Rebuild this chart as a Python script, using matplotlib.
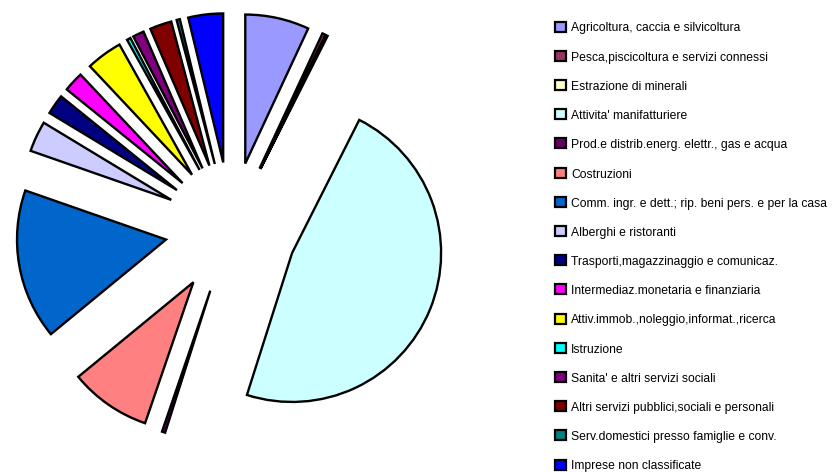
import matplotlib.pyplot as plt
from matplotlib.patches import Rectangle

categories = [
    "Agricoltura, caccia e silvicoltura",
    "Pesca,piscicoltura e servizi connessi",
    "Estrazione di minerali",
    "Attivita' manifatturiere",
    "Prod.e distrib.energ. elettr., gas e acqua",
    "Costruzioni",
    "Comm. ingr. e dett.; rip. beni pers. e per la casa",
    "Alberghi e ristoranti",
    "Trasporti,magazzinaggio e comunicaz.",
    "Intermediaz.monetaria e finanziaria",
    "Attiv.immob.,noleggio,informat.,ricerca",
    "Istruzione",
    "Sanita' e altri servizi sociali",
    "Altri servizi pubblici,sociali e personali",
    "Serv.domestici presso famiglie e conv.",
    "Imprese non classificate",
]
shares = [6.9, 0.35, 0.15, 47.2, 0.35, 8.75, 16.2, 3.3,
          2.15, 2.15, 3.9, 0.4, 1.2, 2.35, 0.35, 3.75]
colors = ["#9999FF", "#993366", "#FFFFCC", "#CCFFFF", "#660066", "#FF8080",
          "#0066CC", "#CCCCFF", "#000080", "#FF00FF", "#FFFF00", "#00FFFF",
          "#800080", "#800000", "#008080", "#0000FF"]

W, H = 832, 472
fig = plt.figure(figsize=(W / 100, H / 100), dpi=100)
ax = fig.add_axes([0, 0, 1, 1])

# pixel coordinates, y pointing down -> counterclock in data is clockwise on screen
ax.pie(shares, colors=colors, center=(231, 228), radius=149,
       explode=[66] * len(shares), startangle=-90, counterclock=True,
       wedgeprops=dict(edgecolor="black", linewidth=1.7))
ax.set_xlim(0, W)
ax.set_ylim(H, 0)
ax.set_aspect("auto")
ax.axis("off")

# legend drawn by hand (text sits slightly below the box, like the original)
for i, (lab, col) in enumerate(zip(categories, colors)):
    y = 27 + 29.2 * i
    ax.add_patch(Rectangle((555, y - 5.5), 11, 10, facecolor=col,
                           edgecolor="black", lw=1.6, clip_on=False))
    ax.text(571, y + 1.5, lab, fontsize=8.7, family="Liberation Sans", va="center")

fig.savefig("out.png", dpi=100)
